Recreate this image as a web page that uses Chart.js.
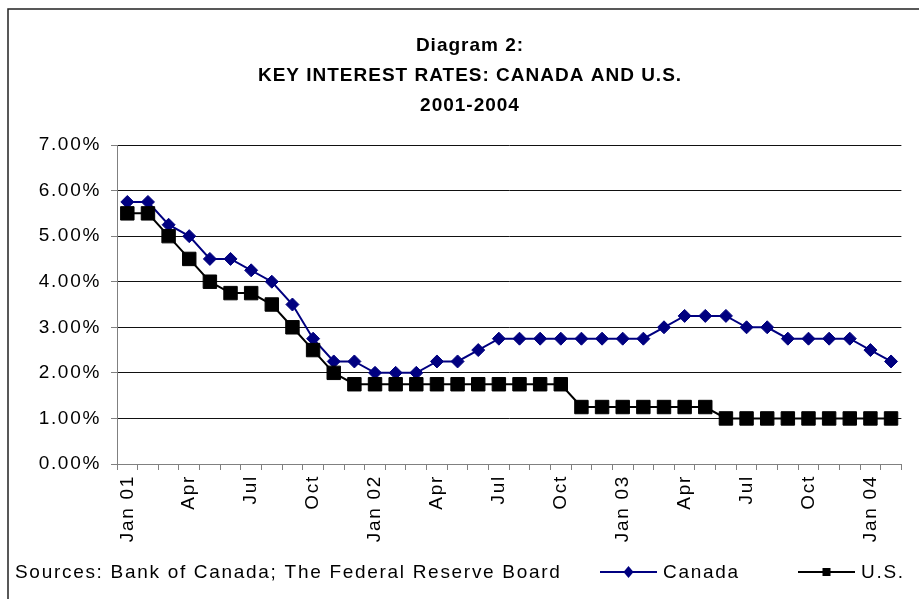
<!DOCTYPE html>
<html>
<head>
<meta charset="utf-8">
<script src="https://cdn.jsdelivr.net/npm/chart.js@4"></script>
<style>
  body { margin: 0; background: #fff; }
  canvas { display: block; }
</style>
</head>
<body>
<canvas id="rateChart" width="919" height="599"></canvas>
<script>
// Key interest rates, monthly Jan 2001 - Feb 2004
const months = [
    'Jan 01', 'Feb 01', 'Mar 01', 'Apr 01', 'May 01', 'Jun 01', 'Jul 01', 'Aug 01', 'Sep 01', 'Oct 01', 'Nov 01', 'Dec 01',
    'Jan 02', 'Feb 02', 'Mar 02', 'Apr 02', 'May 02', 'Jun 02', 'Jul 02', 'Aug 02', 'Sep 02', 'Oct 02', 'Nov 02', 'Dec 02',
    'Jan 03', 'Feb 03', 'Mar 03', 'Apr 03', 'May 03', 'Jun 03', 'Jul 03', 'Aug 03', 'Sep 03', 'Oct 03', 'Nov 03', 'Dec 03',
    'Jan 04', 'Feb 04'
];
const xTickLabels = [
    'Jan 01', '', '', 'Apr', '', '', 'Jul', '', '', 'Oct', '', '',
    'Jan 02', '', '', 'Apr', '', '', 'Jul', '', '', 'Oct', '', '',
    'Jan 03', '', '', 'Apr', '', '', 'Jul', '', '', 'Oct', '', '',
    'Jan 04', ''
];
const canada = [
    5.75, 5.75, 5.25, 5.00, 4.50, 4.50, 4.25, 4.00, 3.50, 2.75, 2.25, 2.25,
    2.00, 2.00, 2.00, 2.25, 2.25, 2.50, 2.75, 2.75, 2.75, 2.75, 2.75, 2.75,
    2.75, 2.75, 3.00, 3.25, 3.25, 3.25, 3.00, 3.00, 2.75, 2.75, 2.75, 2.75,
    2.50, 2.25
];
const us = [
    5.50, 5.50, 5.00, 4.50, 4.00, 3.75, 3.75, 3.50, 3.00, 2.50, 2.00, 1.75,
    1.75, 1.75, 1.75, 1.75, 1.75, 1.75, 1.75, 1.75, 1.75, 1.75, 1.25, 1.25,
    1.25, 1.25, 1.25, 1.25, 1.25, 1.00, 1.00, 1.00, 1.00, 1.00, 1.00, 1.00,
    1.00, 1.00
];
const yTickLabels = ['0.00%', '1.00%', '2.00%', '3.00%', '4.00%', '5.00%', '6.00%', '7.00%'];
const titleLines = ['Diagram 2:', 'KEY INTEREST RATES: CANADA AND U.S.', '2001-2004'];
const sourceText = 'Sources: Bank of Canada; The Federal Reserve Board';

const FONT = '"Liberation Sans", Arial, sans-serif';

// title, frame, source note and legend drawn by hand
const decorPlugin = {
    id: 'decor',
    beforeDraw(chart) {
        chart.ctx.letterSpacing = '1.7px';
    },
    afterDraw(chart) {
        const ctx = chart.ctx;
        ctx.save();
        // outer frame
        ctx.strokeStyle = '#222';
        ctx.lineWidth = 1.5;
        ctx.strokeRect(8, 9, 1000, 1000);

        // title
        ctx.fillStyle = '#000';
        ctx.letterSpacing = '1px';
        ctx.font = 'bold 19px ' + FONT;
        ctx.textAlign = 'center';
        ctx.textBaseline = 'middle';
        titleLines.forEach((t, i) => ctx.fillText(t, 470, 46 + i * 30));

        // source note
        ctx.letterSpacing = '1.7px';
        ctx.font = '19px ' + FONT;
        ctx.textAlign = 'left';
        ctx.fillText(sourceText, 15, 573);

        // legend
        const items = [
            { ds: chart.data.datasets[0], x: 600 },
            { ds: chart.data.datasets[1], x: 798 }
        ];
        items.forEach(it => {
            const y = 572;
            ctx.strokeStyle = it.ds.borderColor;
            ctx.lineWidth = 2;
            ctx.beginPath();
            ctx.moveTo(it.x, y);
            ctx.lineTo(it.x + 57, y);
            ctx.stroke();
            ctx.fillStyle = it.ds.borderColor;
            const cx = it.x + 28.5;
            ctx.beginPath();
            if (it.ds.pointStyle === 'rectRot') {
                ctx.moveTo(cx, y - 6);
                ctx.lineTo(cx + 5, y);
                ctx.lineTo(cx, y + 6);
                ctx.lineTo(cx - 5, y);
            } else {
                ctx.rect(cx - 4, y - 4, 8, 8);
            }
            ctx.closePath();
            ctx.fill();
            ctx.fillStyle = '#000';
            ctx.fillText(it.ds.label, it.x + 63, y + 1);
        });
        ctx.restore();
    }
};

const ctx = document.getElementById('rateChart').getContext('2d');
new Chart(ctx, {
    type: 'line',
    data: {
        labels: months,
        datasets: [{
            label: 'Canada',
            data: canada,
            borderColor: '#000080',
            backgroundColor: '#000080',
            borderWidth: 2,
            pointStyle: 'rectRot',
            pointRadius: 6.5,
            pointBorderWidth: 1,
            pointHoverRadius: 6.5,
            tension: 0,
            order: 1
        }, {
            label: 'U.S.',
            data: us,
            borderColor: '#000000',
            backgroundColor: '#000000',
            borderWidth: 2,
            pointStyle: 'rect',
            pointRadius: 9.5,
            pointBorderWidth: 1,
            pointHoverRadius: 9.5,
            tension: 0,
            order: 0
        }]
    },
    options: {
        responsive: false,
        animation: false,
        layout: { padding: { left: 0, right: 11, top: 145, bottom: 0 } },
        plugins: {
            legend: { display: false },
            title: { display: false },
            tooltip: { enabled: false }
        },
        scales: {
            x: {
                offset: true,
                grid: {
                    offset: true,
                    drawOnChartArea: false,
                    drawTicks: true,
                    tickLength: 6,
                    color: '#808080'
                },
                border: { color: '#808080', width: 1 },
                ticks: {
                    autoSkip: false,
                    minRotation: 90,
                    maxRotation: 90,
                    padding: 5,
                    color: '#000',
                    font: { family: FONT, size: 19 },
                    callback: (v, i) => xTickLabels[i]
                },
                afterFit: s => { s.height = 135; }
            },
            y: {
                min: 0,
                max: 7,
                ticks: {
                    stepSize: 1,
                    padding: 10,
                    color: '#000',
                    font: { family: FONT, size: 19 },
                    callback: (v, i) => yTickLabels[i]
                },
                grid: {
                    color: '#111',
                    lineWidth: 1,
                    tickLength: 6,
                    tickColor: '#808080'
                },
                border: { color: '#808080', width: 1 },
                afterFit: s => { s.width = 117; }
            }
        }
    },
    plugins: [decorPlugin]
});
</script>
</body>
</html>
